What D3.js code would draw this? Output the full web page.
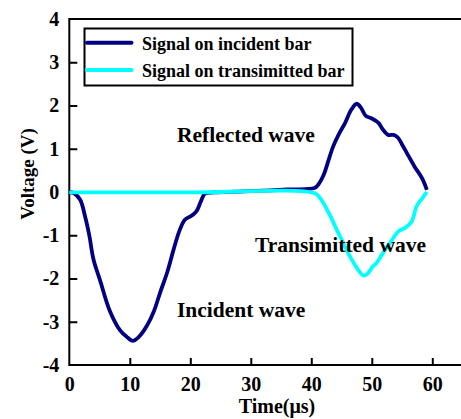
<!DOCTYPE html>
<html>
<head>
<meta charset="utf-8">
<script src="https://cdn.jsdelivr.net/npm/d3@7"></script>
<style>
  body { margin: 0; background: #fff; }
  svg text { font-family: "Liberation Serif", "Times New Roman", serif; font-weight: bold; fill: #000; }
</style>
</head>
<body>
<div id="chart"></div>
<script>
// data
var incidentT = [0, 0.8, 1.8, 2.6, 3.3, 4.0, 5.1, 6.7, 8.4, 9.5, 10.5, 11.5, 12.8, 14.0, 15.0, 16.2, 17.2, 18.2, 19.1, 20.2, 21.0, 21.8, 22.4, 24, 28, 32, 36, 40.5, 41.2, 42.0, 43.0, 43.6, 44.6, 45.6, 46.6, 47.5, 48.2, 49.0, 50.0, 51.1, 51.8, 52.7, 53.6, 54.3, 55.0, 55.8, 57.1, 58.3, 59.1];
var incidentV = [0, -0.03, -0.18, -0.56, -1.0, -1.56, -2.05, -2.75, -3.2, -3.35, -3.44, -3.35, -3.1, -2.75, -2.33, -1.85, -1.35, -0.9, -0.64, -0.55, -0.45, -0.2, -0.04, -0.01, 0.01, 0.03, 0.06, 0.09, 0.18, 0.38, 0.8, 1.05, 1.35, 1.6, 1.9, 2.04, 1.95, 1.76, 1.7, 1.6, 1.45, 1.32, 1.32, 1.26, 1.1, 0.9, 0.58, 0.32, 0.05];

var transT = [0, 20, 40.6, 41.5, 42.3, 43.3, 44.2, 45.3, 46.4, 47.5, 48.6, 49.2, 50.2, 50.8, 51.8, 53.0, 54.4, 55.5, 56.6, 57.4, 58.2, 59.1];
var transV = [-0.01, -0.01, -0.03, -0.15, -0.33, -0.6, -0.87, -1.18, -1.49, -1.75, -1.93, -1.9, -1.72, -1.64, -1.42, -1.18, -0.91, -0.83, -0.68, -0.33, -0.17, 0];

var xTicks = [0, 10, 20, 30, 40, 50, 60];
var yTicks = [-4, -3, -2, -1, 0, 1, 2, 3, 4];
var seriesNames = ["Signal on incident bar", "Signal on transimitted bar"];
var seriesColors = ["#000080", "#00ffff"];

var svgWidth = 461;
var svgHeight = 419;

var svg = d3.select("#chart")
  .append("svg")
  .attr("width", svgWidth)
  .attr("height", svgHeight);

var x = d3.scaleLinear().domain([0, 60]).range([69.3, 432.3]);
var y = d3.scaleLinear().domain([-4, 4]).range([365, 19]);

// frame: top line and the two axes
svg.append("line")
  .attr("x1", x(0)).attr("x2", svgWidth)
  .attr("y1", y(4)).attr("y2", y(4))
  .attr("stroke", "#000").attr("stroke-width", 2);

var xAxis = svg.append("g")
  .attr("transform", `translate(0, ${y(-4)})`)
  .call(d3.axisBottom(x).tickValues(xTicks).tickSize(-7).tickPadding(12).tickFormat(d => String(d)));
xAxis.select(".domain").remove();
xAxis.append("line")
  .attr("x1", x(0)).attr("x2", svgWidth)
  .attr("stroke", "#000").attr("stroke-width", 2);

var yAxis = svg.append("g")
  .attr("transform", `translate(${x(0)}, 0)`)
  .call(d3.axisLeft(y).tickValues(yTicks).tickSize(-8).tickPadding(10).tickFormat(d => String(d)));
yAxis.select(".domain").remove();
yAxis.append("line")
  .attr("y1", y(4) - 1).attr("y2", y(-4) + 1)
  .attr("stroke", "#000").attr("stroke-width", 2);

svg.selectAll(".tick line").attr("stroke", "#000").attr("stroke-width", 2);
svg.selectAll(".tick text").style("font-size", "20px").attr("fill", "#000");
xAxis.selectAll(".tick").filter(d => d === 0).select("line").remove();
yAxis.selectAll(".tick").filter(d => d === 4 || d === -4).select("line").remove();

// axis titles
svg.append("text")
  .attr("x", 277).attr("y", 413)
  .attr("text-anchor", "middle")
  .style("font-size", "20px")
  .text("Time(μs)");

svg.append("text")
  .attr("transform", "translate(34, 174) rotate(-90)")
  .attr("text-anchor", "middle")
  .style("font-size", "19px")
  .text("Voltage (V)");

// lines
var line = d3.line()
  .x(d => x(d[0]))
  .y(d => y(d[1]))
  .curve(d3.curveCatmullRom.alpha(0.5));

var incident = incidentT.map((t, i) => [t, incidentV[i]]);
var transmitted = transT.map((t, i) => [t, transV[i]]);

svg.append("path")
  .datum(incident)
  .attr("fill", "none")
  .attr("stroke", seriesColors[0])
  .attr("stroke-width", 3.8)
  .attr("stroke-linejoin", "round")
  .attr("d", line);

svg.append("path")
  .datum(transmitted)
  .attr("fill", "none")
  .attr("stroke", seriesColors[1])
  .attr("stroke-width", 3.8)
  .attr("stroke-linejoin", "round")
  .attr("d", line);

// legend
var legend = svg.append("g");
legend.append("rect")
  .attr("x", 84.5).attr("y", 28.5)
  .attr("width", 268).attr("height", 57)
  .attr("fill", "#fff")
  .attr("stroke", "#000").attr("stroke-width", 2);

seriesNames.forEach(function(name, i) {
  var ly = 42.7 + i * 27.3;
  legend.append("line")
    .attr("x1", 87).attr("x2", 131.5)
    .attr("y1", ly).attr("y2", ly)
    .attr("stroke", seriesColors[i])
    .attr("stroke-width", 4)
    .attr("stroke-linecap", "round");
  legend.append("text")
    .attr("x", 142).attr("y", ly + 7)
    .style("font-size", "18px")
    .text(name);
});

// annotations
svg.append("text").attr("x", 177).attr("y", 141.5).style("font-size", "21.5px").text("Reflected wave");
svg.append("text").attr("x", 255).attr("y", 251.5).style("font-size", "21.5px").text("Transimitted wave");
svg.append("text").attr("x", 177).attr("y", 316.5).style("font-size", "21.5px").text("Incident wave");
</script>
</body>
</html>
